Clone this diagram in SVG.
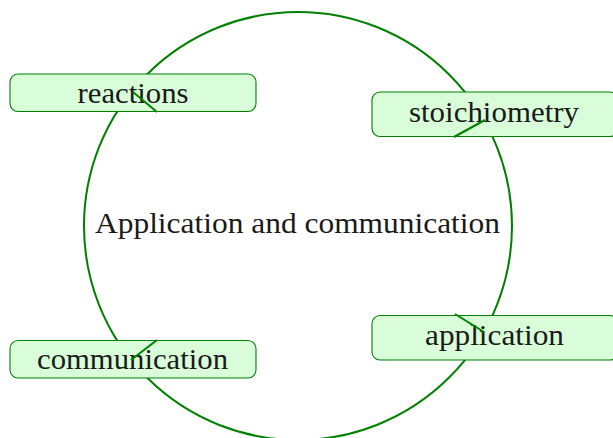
<svg xmlns="http://www.w3.org/2000/svg" width="613" height="438" viewBox="0 0 613 438">
<style>
.ring{fill:none;stroke:#008000;stroke-width:2}
.box{fill:#d9fdd9;stroke:#008000;stroke-width:1.1}
.lbl{font-family:"Liberation Serif","DejaVu Serif",serif;font-size:30px;fill:#1a1a1a;text-anchor:middle}
.tick{stroke:#008000;stroke-width:2;fill:none}
</style>
<rect width="613" height="438" fill="#ffffff"/>
<g id="center">
<circle class="ring" cx="298" cy="226" r="214"/>
<text class="lbl" x="297.5" y="233" textLength="405" lengthAdjust="spacingAndGlyphs">Application and communication</text>
</g>
<g id="reactions">
<rect class="box" x="10" y="74" width="246" height="37.5" rx="8"/>
<text class="lbl" x="133" y="103" textLength="111" lengthAdjust="spacingAndGlyphs">reactions</text>
</g>
<g id="stoichiometry">
<rect class="box" x="372" y="92" width="246" height="44.5" rx="8"/>
<text class="lbl" x="494" y="122" textLength="170" lengthAdjust="spacingAndGlyphs">stoichiometry</text>
</g>
<g id="application">
<rect class="box" x="372" y="315.5" width="246" height="44.5" rx="8"/>
<text class="lbl" x="494.5" y="345" textLength="139" lengthAdjust="spacingAndGlyphs">application</text>
</g>
<g id="communication">
<rect class="box" x="10" y="340.5" width="246" height="37.5" rx="8"/>
<text class="lbl" x="132.5" y="369" textLength="191" lengthAdjust="spacingAndGlyphs">communication</text>
</g>
<g id="connectors">
<line class="tick" x1="157" y1="112" x2="133" y2="92"/>
<line class="tick" x1="454" y1="137" x2="485" y2="120"/>
<line class="tick" x1="455" y1="314" x2="484" y2="332"/>
<line class="tick" x1="157" y1="340" x2="131" y2="360"/>
</g>
</svg>
